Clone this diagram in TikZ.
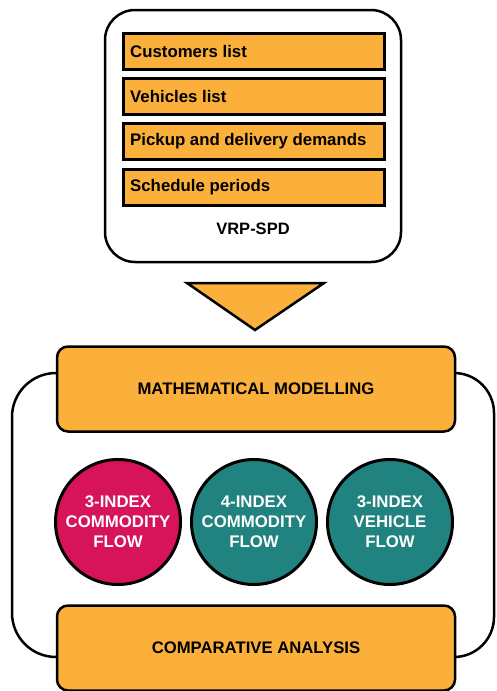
\documentclass[tikz,border=0pt]{standalone}
\usepackage{fontspec}
\setmainfont{Liberation Sans}
\definecolor{boxorange}{HTML}{FBB03B}
\definecolor{flowred}{HTML}{D7135A}
\definecolor{flowteal}{HTML}{21837F}
\tikzset{
  itembox/.style={draw, line width=3pt, fill=boxorange, minimum width=261pt, minimum height=36pt, inner sep=0pt},
  itemtext/.style={anchor=west, inner sep=0pt, font=\fontsize{16.8}{20}\selectfont\bfseries},
  stagebox/.style={draw, line width=2.5pt, fill=boxorange, rounded corners=11pt, minimum width=398pt, minimum height=85pt, inner sep=0pt, font=\fontsize{16.7}{20}\selectfont\bfseries},
  flowdisc/.style={circle, draw, line width=3pt, minimum size=125pt, inner sep=0pt, text=white, align=center, font=\fontsize{16.8}{20}\selectfont\bfseries},
}
\begin{document}
\begin{tikzpicture}[x=1pt, y=-1pt]
\useasboundingbox (0,0) rectangle (496,691);
% input data
\node[draw, line width=2.5pt, rounded corners=30pt, minimum width=296pt, minimum height=252pt] (vrp) at (253,136){};
\node[itembox] (cust) at (253.5,51){};
\node[itembox] (veh) at (253.5,96.5){};
\node[itembox] (dem) at (253.5,141.5){};
\node[itembox] (sched) at (253.5,187){};
\node[itemtext] (custtxt) at ([xshift=8.5pt]cust.west){Customers list};
\node[itemtext] (vehtxt) at ([xshift=8.5pt]veh.west){Vehicles list};
\node[itemtext] (demtxt) at ([xshift=8.5pt]dem.west){Pickup and delivery demands};
\node[itemtext] (schedtxt) at ([xshift=8.5pt]sched.west){Schedule periods};
\node[font=\fontsize{16.5}{20}\selectfont\bfseries] (vrplbl) at (253,229){VRP-SPD};
% down arrow
\coordinate (tipl) at (187,283);
\coordinate (tipr) at (324,283);
\coordinate (tip) at (255,330);
\draw[line width=2.5pt, fill=boxorange, line join=miter] (tipl) -- (tipr) -- (tip) -- cycle;
% modelling stage
\draw[line width=2.5pt, rounded corners=44pt] (56,373) -- (12,373) -- (12,657) -- (56,657);
\draw[line width=2.5pt, rounded corners=40pt] (456,373) -- (494,373) -- (494,657) -- (456,657);
\node[stagebox] (model) at (256,389){MATHEMATICAL MODELLING};
\node[stagebox] (comp) at (256,648){COMPARATIVE ANALYSIS};
\node[flowdisc, fill=flowred] (f3c) at (118,522){3-INDEX\\COMMODITY\\FLOW};
\node[flowdisc, fill=flowteal] (f4c) at (254,522){4-INDEX\\COMMODITY\\FLOW};
\node[flowdisc, fill=flowteal] (f3v) at (390,522){3-INDEX\\VEHICLE\\FLOW};
\end{tikzpicture}
\end{document}
